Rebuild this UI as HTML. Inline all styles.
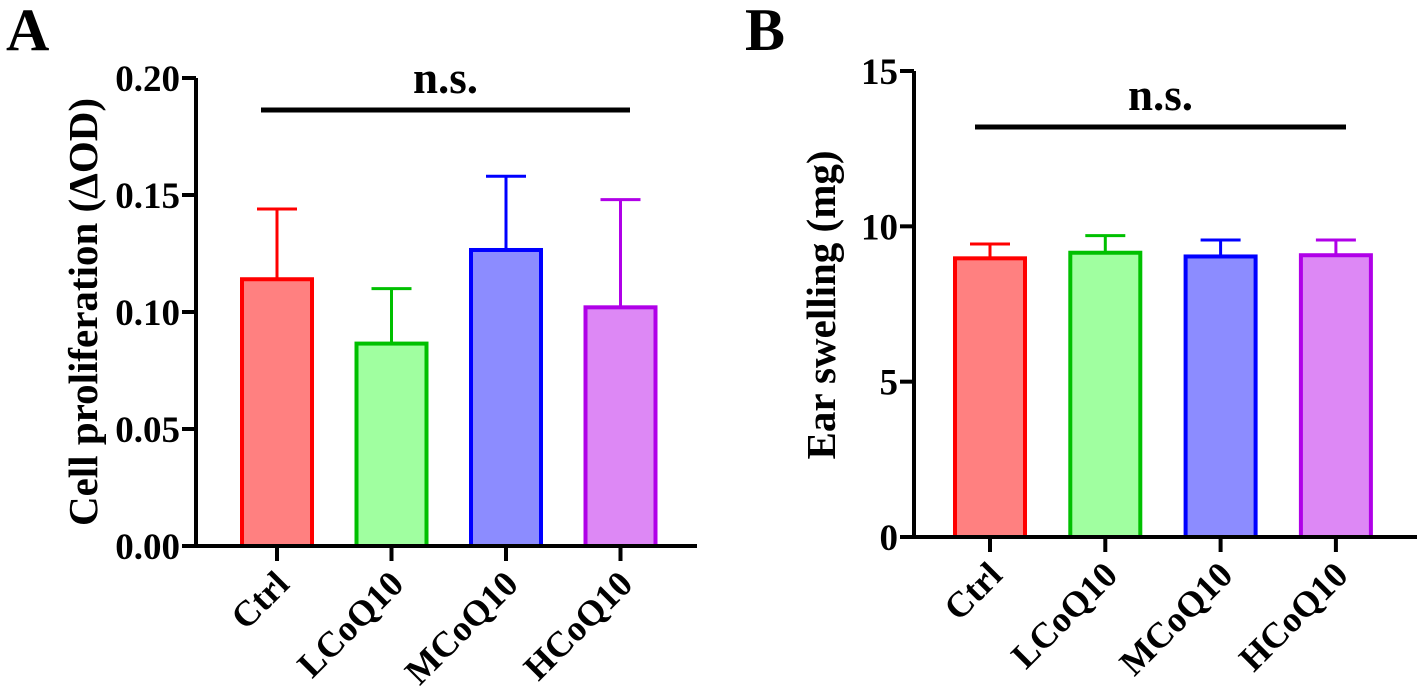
<!DOCTYPE html>
<html><head><meta charset="utf-8"><style>
html,body{margin:0;padding:0;background:#fff}
svg{display:block}
text{font-family:"Liberation Serif",serif;font-weight:bold;fill:#000}
</style></head><body>
<svg id="fig" width="1417" height="691" viewBox="0 0 1417 691"></svg>
<script>
const categories = ["Ctrl","LCoQ10","MCoQ10","HCoQ10"];
const meansA = [0.114, 0.0865, 0.1265, 0.102];
const errTopA = [0.144, 0.110, 0.158, 0.148];
const ticksA = [0, 0.05, 0.10, 0.15, 0.20];
const tickLabelsA = ["0.00","0.05","0.10","0.15","0.20"];
const meansB = [8.97, 9.15, 9.03, 9.07];
const errTopB = [9.43, 9.7, 9.56, 9.56];
const ticksB = [0, 5, 10, 15];
const tickLabelsB = ["0","5","10","15"];
const strokes = ["#ff0000","#00c000","#0000ff","#b000e8"];
const fills = ["#ff8080","#a0ffa0","#8c8cff","#dd88f5"];

const NS="http://www.w3.org/2000/svg";
const svg=document.getElementById('fig');
function mk(tag,attrs,parent){const e=document.createElementNS(NS,tag);for(const k in attrs)e.setAttribute(k,attrs[k]);(parent||svg).appendChild(e);return e;}

function panel(o){
  const g=mk('g',{});
  
  
  const y=v=>o.y0-(v-o.min)/(o.max-o.min)*(o.y0-o.y1);
  const x=i=>o.c0+i*o.step;
  const lbl=mk('text',{x:o.lx,y:50,'font-size':60},g);lbl.textContent=o.letter;
  
  
  o.means.forEach((m,i)=>{
    const cx=x(i),hw=35;
    const eb=mk('path',{d:`M${cx} ${y(m)} V${y(o.err[i])} M${cx-20} ${y(o.err[i])} H${cx+20}`,stroke:strokes[i],'stroke-width':3,fill:'none'},g);
    
    
    const r=mk('rect',{x:cx-hw,y:y(m),width:hw*2,height:y(0)-y(m),fill:fills[i],stroke:strokes[i],'stroke-width':4},g);
    
    
    const t=mk('line',{x1:cx,x2:cx,y1:o.y0,y2:o.y0+15,stroke:'#000','stroke-width':4},g);
    
    
    const tl=mk('text',{x:0,y:0,'font-size':36,'text-anchor':'end',transform:`translate(${cx+14},${o.y0+40}) rotate(-45)`},g);
    tl.textContent=categories[i];
    
    
  });
  const ax=mk('path',{d:`M${o.ax} ${o.y1} V${o.y0} H${o.axEnd}`,stroke:'#000','stroke-width':4,fill:'none'},g);
  
  
  o.ticks.forEach((v,i)=>{
    const t=mk('line',{x1:o.ax-14,x2:o.ax,y1:y(v),y2:y(v),stroke:'#000','stroke-width':4},g);
    
    
    const tl=mk('text',{x:o.ax-16,y:y(v)+13,'font-size':37,'text-anchor':'end'},g);
    tl.textContent=o.tickLabels[i];
    
    
  });
  const yt=mk('text',{x:0,y:0,'font-size':41,'text-anchor':'middle',transform:`translate(${o.tx},${o.ty}) rotate(-90)`},g);
  yt.textContent=o.title;
  
  
  const sl=mk('line',{x1:o.s1,x2:o.s2,y1:o.sy,y2:o.sy,stroke:'#000','stroke-width':5},g);
  
  
  const ns=mk('text',{x:(o.s1+o.s2)/2,y:o.sy-17,'font-size':45,'text-anchor':'middle'},g);
  ns.textContent='n.s.';
  
  
}
panel({name:'panel-a',letter:'A',lx:6,means:meansA,err:errTopA,ticks:ticksA,tickLabels:tickLabelsA,min:0,max:0.2,
  y0:546,y1:78,ax:196,axEnd:697,c0:277,step:114.5,title:'Cell proliferation (ΔOD)',tx:97,ty:312,s1:261,s2:630,sy:110});
panel({name:'panel-b',letter:'B',lx:745,means:meansB,err:errTopB,ticks:ticksB,tickLabels:tickLabelsB,min:0,max:15,
  y0:537,y1:71,ax:914,axEnd:1417,c0:990,step:115.3,title:'Ear swelling (mg)',tx:835,ty:305,s1:975,s2:1346,sy:127});
</script>
</body></html>
